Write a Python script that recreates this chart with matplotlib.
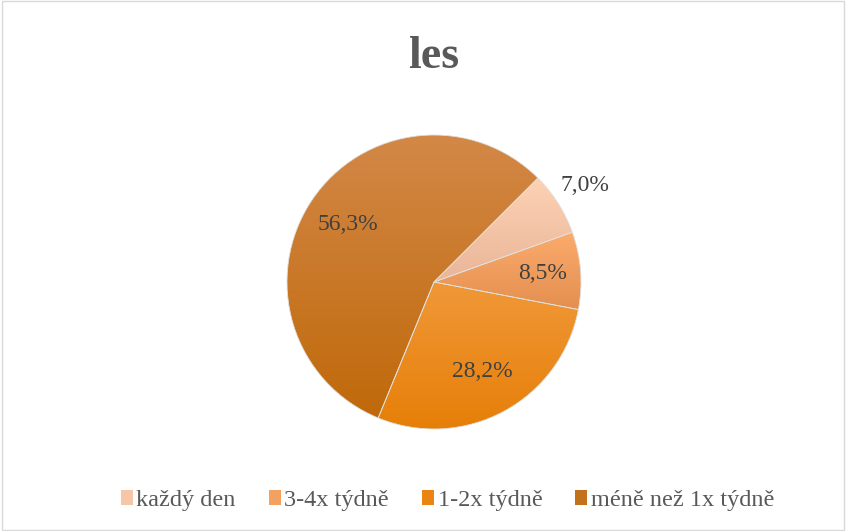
#!/usr/bin/env python3
"""Pie chart 'les' with Excel-like gradient wedges."""

import matplotlib

matplotlib.use("Agg")
import matplotlib.pyplot as plt
import numpy as np
from matplotlib.colors import LinearSegmentedColormap
from matplotlib.patches import Rectangle

categories = ["každý den", "3-4x týdně", "1-2x týdně", "méně než 1x týdně"]
shares = [7.0, 8.5, 28.2, 56.3]
labels = ["7,0%", "8,5%", "28,2%", "56,3%"]

# top / bottom colour of each wedge's vertical gradient
grad_top = ["#fdd2b4", "#fbab6c", "#f09838", "#d38847"]
grad_bottom = ["#eab598", "#e38f50", "#e67f08", "#c0690a"]
legend_colors = ["#f7c6a6", "#f3a160", "#ea8512", "#c4711c"]

plt.rcParams.update({
    "font.family": ["Liberation Serif", "DejaVu Serif"],
})

fig = plt.figure(figsize=(8.46, 5.31), dpi=100)
ax = fig.add_axes([0.0, 0.0, 1.0, 1.0])
ax.set_xlim(0, 846)
ax.set_ylim(531, 0)
ax.set_aspect("equal")
ax.axis("off")

# chart-area border
fig.patches.append(Rectangle((0.002, 0.002), 0.996, 0.996, transform=fig.transFigure,
                             fill=False, edgecolor="#d9d9d9", linewidth=1.0))

cx, cy, r = 434, 282, 147
wedges, _ = ax.pie(
    shares,
    startangle=-45,
    counterclock=True,
    center=(cx, cy),
    radius=r,
    colors=legend_colors,
    wedgeprops={"linewidth": 0.6, "edgecolor": "#e0e0e0"},
    frame=False,
)

# y axis is inverted, so counterclockwise in data = clockwise on screen
for w, top, bot in zip(wedges, grad_top, grad_bottom):
    bb = w.get_path().get_extents(w.get_patch_transform())
    cmap = LinearSegmentedColormap.from_list("g", [top, bot])
    grad = np.linspace(0, 1, 256).reshape(-1, 1)
    im = ax.imshow(grad, cmap=cmap, aspect="auto",
                   extent=[bb.x0, bb.x1, bb.y1, bb.y0], zorder=w.get_zorder())
    im.set_clip_path(w)
    w.set_facecolor("none")
    w.set_zorder(w.get_zorder() + 1)

ax.set_xlim(0, 846)
ax.set_ylim(531, 0)

# data labels
dist = [1.22, 0.74, 0.69, 0.70]
for w, lab, d in zip(wedges, labels, dist):
    mid = np.deg2rad((w.theta1 + w.theta2) / 2)
    x = cx + d * r * np.cos(mid)
    y = cy + d * r * np.sin(mid)
    ax.text(x, y, lab, ha="center", va="center", fontsize=17, color="#404040", zorder=5)

ax.text(434, 57, "les", ha="center", va="center", fontsize=33, fontweight="bold", color="#595959")

handles = [Rectangle((0, 0), 1, 1, facecolor=c, edgecolor="none") for c in legend_colors]
fig.legend(handles, categories, loc="center", bbox_to_anchor=(0.529, 0.058), ncol=4,
           frameon=False, fontsize=17.5, labelcolor="#595959", handlelength=0.5,
           handleheight=0.6, handletextpad=0.15, columnspacing=1.35)

fig.savefig("out.png", dpi=100)
